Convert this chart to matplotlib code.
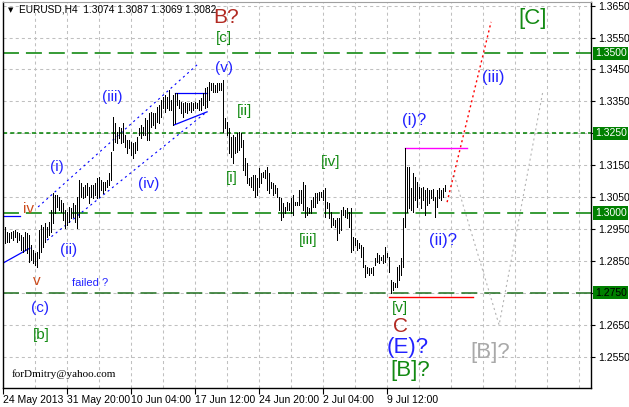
import matplotlib
matplotlib.use("Agg")
import matplotlib.pyplot as plt

plt.rcParams["lines.scale_dashes"] = False

# H4 bars, high / low (oldest first)
highs = [
    1.2957, 1.2941, 1.2936, 1.2941, 1.2944, 1.2947, 1.2941, 1.2936, 1.2931, 1.2926,
    1.2941, 1.2936, 1.2931, 1.2900, 1.2884, 1.2874, 1.2879, 1.2947, 1.2962, 1.2957,
    1.2968, 1.2957, 1.2973, 1.3009, 1.3062, 1.3056, 1.3056, 1.3051, 1.3041, 1.3030,
    1.3009, 1.3004, 1.3020, 1.3015, 1.3030, 1.3025, 1.3051, 1.3103, 1.3093, 1.3082,
    1.3088, 1.3093, 1.3082,
    1.3088, 1.3088, 1.3093, 1.3109, 1.3114, 1.3103, 1.3098, 1.3098, 1.3103, 1.3124,
    1.3192, 1.3302, 1.3281, 1.3255, 1.3270, 1.3265, 1.3281, 1.3244, 1.3229, 1.3229,
    1.3223, 1.3218, 1.3223, 1.3239, 1.3265, 1.3276, 1.3270, 1.3297, 1.3291, 1.3312,
    1.3317, 1.3312, 1.3312, 1.3333, 1.3338, 1.3354, 1.3364, 1.3370, 1.3364, 1.3385,
    1.3354, 1.3370, 1.3375, 1.3375,
    1.3354, 1.3349, 1.3344, 1.3349, 1.3344, 1.3344, 1.3349, 1.3344, 1.3349, 1.3344,
    1.3354, 1.3359, 1.3375, 1.3391, 1.3396, 1.3412, 1.3406, 1.3406, 1.3401, 1.3406,
    1.3406, 1.3408, 1.3417, 1.3297, 1.3286, 1.3265, 1.3239, 1.3244, 1.3239, 1.3250,
    1.3255, 1.3250, 1.3229, 1.3171, 1.3156, 1.3109, 1.3114, 1.3119, 1.3119, 1.3109,
    1.3140, 1.3124, 1.3129, 1.3135, 1.3145,
    1.3124, 1.3098, 1.3093, 1.3088, 1.3077, 1.3051, 1.3046, 1.3030, 1.3020, 1.3035,
    1.3030, 1.3046, 1.3056, 1.3035, 1.3035, 1.3072, 1.3072, 1.3098, 1.3088, 1.3020,
    1.3015, 1.3041, 1.3051, 1.3062, 1.3062, 1.3067, 1.3067, 1.3072, 1.3077, 1.3035,
    1.3030, 1.3004, 1.2983, 1.2978, 1.2983, 1.2983, 1.3009, 1.3020, 1.3009, 1.3015,
    1.3004, 1.3015, 1.2926, 1.2921, 1.2915,
    1.2905, 1.2900, 1.2894, 1.2837, 1.2832, 1.2827, 1.2827, 1.2832, 1.2858, 1.2874,
    1.2868, 1.2863, 1.2868, 1.2894, 1.2874, 1.2863, 1.2790, 1.2785, 1.2780, 1.2832,
    1.2837, 1.2858, 1.2983, 1.3203, 1.3145, 1.3145, 1.3077, 1.3124, 1.3114, 1.3098,
    1.3082, 1.3077, 1.3082, 1.3072, 1.3077, 1.3072, 1.3072, 1.3074, 1.3051, 1.3072,
    1.3077, 1.3072, 1.3077, 1.3087,
]
lows = [
    1.2905, 1.2910, 1.2910, 1.2921, 1.2915, 1.2926, 1.2910, 1.2915, 1.2884, 1.2879,
    1.2884, 1.2874, 1.2847, 1.2853, 1.2842, 1.2837, 1.2832, 1.2858, 1.2879, 1.2894,
    1.2910, 1.2926, 1.2931, 1.2941, 1.2968, 1.2999, 1.3020, 1.3009, 1.3004, 1.2978,
    1.2952, 1.2962, 1.2973, 1.2983, 1.2988, 1.2973, 1.2952, 1.2988, 1.3051, 1.3046,
    1.3051, 1.3056, 1.3030,
    1.3051, 1.3046, 1.3056, 1.3046, 1.3051, 1.3072, 1.3062, 1.3072, 1.3082, 1.3088,
    1.3103, 1.3197, 1.3223, 1.3218, 1.3234, 1.3218, 1.3223, 1.3208, 1.3187, 1.3203,
    1.3182, 1.3171, 1.3187, 1.3197, 1.3244, 1.3234, 1.3244, 1.3244, 1.3229, 1.3229,
    1.3270, 1.3276, 1.3265, 1.3286, 1.3281, 1.3302, 1.3328, 1.3317, 1.3328, 1.3323,
    1.3323, 1.3276, 1.3281, 1.3338,
    1.3328, 1.3312, 1.3302, 1.3317, 1.3312, 1.3323, 1.3317, 1.3323, 1.3328, 1.3328,
    1.3323, 1.3323, 1.3338, 1.3328, 1.3333, 1.3354, 1.3385, 1.3380, 1.3380, 1.3380,
    1.3385, 1.3385, 1.3255, 1.3265, 1.3244, 1.3187, 1.3176, 1.3156, 1.3187, 1.3192,
    1.3197, 1.3208, 1.3135, 1.3119, 1.3093, 1.3088, 1.3082, 1.3072, 1.3051, 1.3056,
    1.3082, 1.3093, 1.3114, 1.3109, 1.3072,
    1.3062, 1.3077, 1.3056, 1.3062, 1.3051, 1.3009, 1.2978, 1.2988, 1.2999, 1.3009,
    1.3009, 1.2999, 1.2994, 1.3025, 1.3025, 1.3025, 1.3030, 1.3009, 1.2988, 1.2994,
    1.2999, 1.2999, 1.3020, 1.3020, 1.3030, 1.3041, 1.3051, 1.3041, 1.2988, 1.3015,
    1.2983, 1.2957, 1.2962, 1.2957, 1.2915, 1.2936, 1.2947, 1.2994, 1.2988, 1.2983,
    1.2957, 1.2879, 1.2884, 1.2900, 1.2884,
    1.2889, 1.2863, 1.2832, 1.2800, 1.2811, 1.2806, 1.2811, 1.2806, 1.2837, 1.2847,
    1.2842, 1.2853, 1.2842, 1.2847, 1.2863, 1.2816, 1.2748, 1.2759, 1.2769, 1.2769,
    1.2790, 1.2806, 1.2832, 1.2957, 1.3004, 1.3015, 1.3009, 1.3004, 1.3041, 1.3020,
    1.3046, 1.3015, 1.3041, 1.2994, 1.3025, 1.3030, 1.3046, 1.3041, 1.2988, 1.3020,
    1.3046, 1.3041, 1.3051, 1.3069,
]

date_labels = ["24 May 2013", "31 May 20:00", "10 Jun 04:00", "17 Jun 12:00",
               "24 Jun 20:00", "2 Jul 04:00", "9 Jul 12:00"]
price_labels = [1.3650, 1.3550, 1.3450, 1.3350, 1.3250, 1.3150, 1.3050,
                1.2950, 1.2850, 1.2750, 1.2650, 1.2550]
levels = [1.3500, 1.3250, 1.3000, 1.2750]

# drawn objects (bar index, price)
proj_red_x = [221.2, 243.2]
proj_red_y = [1.3034, 1.3599]
proj_gray_x = [224.7, 247.2, 269.2]
proj_gray_y = [1.3119, 1.2649, 1.3385]
magenta_x = [200.2, 231.2]
magenta_y = [1.3205, 1.3205]
low_x = [192.2, 234.2]
low_y = [1.2737, 1.2737]
chan_up_x = [16.7, 97.2]
chan_up_y = [1.3019, 1.3470]
chan_lo_x = [21.2, 100.2]
chan_lo_y = [1.2915, 1.3313]
tri_top_x = [85.2, 101.2]
tri_top_y = [1.3376, 1.3376]
tri_lo_x = [84.7, 101.2]
tri_lo_y = [1.3276, 1.3317]
left_a_x = [-0.85, 7.6]
left_a_y = [1.2991, 1.2991]
left_b_x = [-0.85, 12.6]
left_b_y = [1.2843, 1.2890]

BLUE = "#2222ff"
GREEN = "#138a13"
BROWN = "#b22a22"
ORANGE = "#cc4a1a"

# wave labels: text, bar index, price, colour, size
labels = [
    ("B?", 110.7, 1.3614, BROWN, 15),
    ("[c]", 109.7, 1.3548, GREEN, 11),
    ("(v)", 109.7, 1.3454, BLUE, 11),
    ("[ii]", 119.7, 1.3320, GREEN, 11),
    ("[i]", 113.7, 1.3110, GREEN, 11),
    ("(iii)", 53.7, 1.3364, BLUE, 11),
    ("(i)", 26.2, 1.3144, BLUE, 11),
    ("(iv)", 72.2, 1.3091, BLUE, 11),
    ("(ii)", 31.7, 1.2884, BLUE, 11),
    ("iv", 11.7, 1.3013, ORANGE, 11),
    ("v", 16.2, 1.2787, ORANGE, 11),
    ("failed ?", 42.7, 1.2781, BLUE, 8),
    ("(c)", 17.7, 1.2702, BLUE, 11),
    ("[b]", 18.2, 1.2618, GREEN, 11),
    ("[iii]", 151.7, 1.2915, GREEN, 11),
    ("[iv]", 163.2, 1.3160, GREEN, 11),
    ("[v]", 197.7, 1.2702, GREEN, 11),
    ("C", 197.7, 1.2643, BROWN, 15),
    ("(E)?", 201.7, 1.2577, BLUE, 16),
    ("[B]?", 202.7, 1.2508, GREEN, 16),
    ("[B]?", 242.7, 1.2564, "#a9a9a9", 16),
    ("(i)?", 204.7, 1.3291, BLUE, 12),
    ("(ii)?", 219.2, 1.2915, BLUE, 12),
    ("(iii)", 244.2, 1.3426, BLUE, 12),
    ("[C]", 264.2, 1.3611, GREEN, 16),
]

fig = plt.figure(figsize=(6.29, 4.07), dpi=100)
ax = fig.add_axes([3 / 629, 19 / 407, 588 / 629, 386 / 407])
ax.set_xlim(-0.85, 293.15)
ax.set_ylim(1.24516, 1.36613)

# grid
for p in price_labels:
    ax.axhline(p, color="#c0c0c0", lw=0.75, ls=(0, (2.2, 2.2)), zorder=0)
for k in range(19):
    ax.axvline(15.2 + 16 * k, color="#c0c0c0", lw=0.75, ls=(0, (2.2, 2.2)), zorder=0)

# levels
ax.axhline(levels[0], color="#008000", lw=1.1, ls=(0, (11.5, 5)), zorder=1)
ax.axhline(levels[1], color="#008000", lw=1.1, ls=(0, (3, 2.2)), zorder=1)
ax.axhline(levels[2], color="#008000", lw=1.1, ls=(0, (11.5, 5)), zorder=1)
ax.axhline(levels[3], color="#1e6e1e", lw=1.1, ls=(0, (11.5, 5)), zorder=1)

# bars
idx = list(range(len(highs)))
ax.vlines(idx, lows, highs, color="black", lw=0.6, antialiased=False, zorder=3)

# drawn objects
ax.plot(chan_up_x, chan_up_y, color="blue", lw=0.8, ls=(0, (1.5, 2.5)), zorder=2)
ax.plot(chan_lo_x, chan_lo_y, color="blue", lw=0.8, ls=(0, (1.5, 2.5)), zorder=2)
ax.plot(tri_top_x, tri_top_y, color="blue", lw=0.9, zorder=2)
ax.plot(tri_lo_x, tri_lo_y, color="blue", lw=0.9, zorder=2)
ax.plot(left_a_x, left_a_y, color="blue", lw=0.9, zorder=2)
ax.plot(left_b_x, left_b_y, color="blue", lw=0.9, zorder=2)
ax.plot(magenta_x, magenta_y, color="#ff00ff", lw=1.0, zorder=2)
ax.plot(low_x, low_y, color="red", lw=1.0, zorder=2)
ax.plot(proj_red_x, proj_red_y, color="red", lw=1.0, ls=(0, (1.5, 2.2)), zorder=2)
ax.plot(proj_gray_x, proj_gray_y, color="#b4b4b4", lw=0.8, ls=(0, (1.5, 2.2)), zorder=2)

for txt, x, y, c, s in labels:
    ax.text(x, y, txt, color=c, fontsize=s, ha="center", va="center",
            family="Liberation Sans", zorder=4)

ax.text(3.7, 1.2496, "forDmitry@yahoo.com", fontsize=8, family="Liberation Serif",
        ha="left", va="center")
fig.text(8 / 629, 1 - 10 / 407, "\u25bc", fontsize=5, va="center", ha="left",
         family="DejaVu Sans")
fig.text(19 / 629, 1 - 10 / 407, "EURUSD,H4  1.3074 1.3087 1.3069 1.3082",
         fontsize=7.3, va="center", ha="left", family="Liberation Sans")

# axes
for side in ["left", "right", "bottom"]:
    ax.spines[side].set_color("black")
    ax.spines[side].set_linewidth(1)
ax.spines["top"].set_color("#a0a0a0")

ax.yaxis.tick_right()
ax.set_yticks(price_labels)
ax.set_yticklabels(["" if p in levels else "%.4f" % p for p in price_labels],
                   family="Liberation Sans", fontsize=7.5)
ax.tick_params(axis="y", direction="out", length=3, pad=2, width=0.8)

date_pos = [-0.85] + [31.2 + 32 * k for k in range(len(date_labels) - 1)]
ax.set_xticks(date_pos)
ax.set_xticklabels(date_labels, family="Liberation Sans", fontsize=7.5, ha="left")
ax.tick_params(axis="x", direction="out", length=4, pad=1, width=0.8)

for p in levels:
    fc_txt = "black" if p == 1.2750 else "white"
    ax.annotate("%.4f" % p, xy=(1.0, p), xycoords=("axes fraction", "data"),
                xytext=(4, 0), textcoords="offset pixels", va="center", ha="left",
                fontsize=7.5, family="Liberation Sans", color=fc_txt,
                bbox=dict(boxstyle="square,pad=0.15", fc="#008000", ec="none"),
                annotation_clip=False)

fig.savefig("out.png", dpi=100)
